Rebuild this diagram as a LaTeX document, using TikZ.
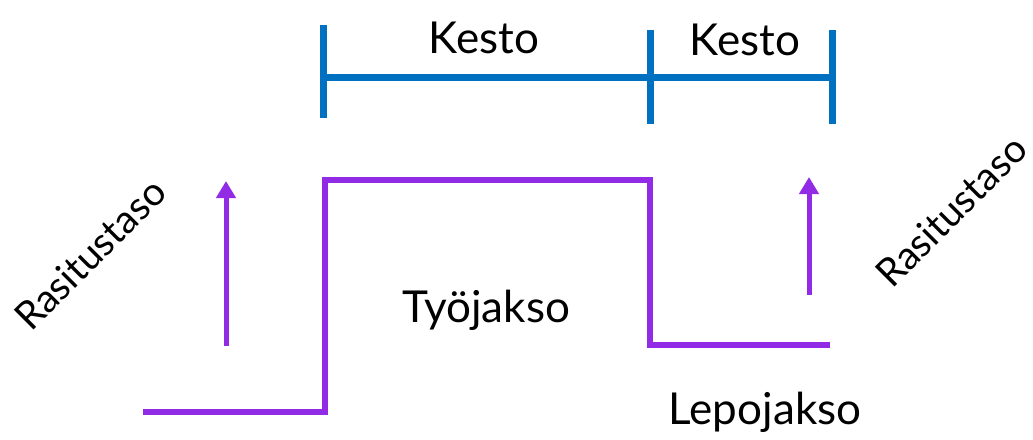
\documentclass[tikz,border=0pt]{standalone}
\usepackage{fontspec}
\setmainfont{Lato}
\usetikzlibrary{arrows.meta}
\definecolor{barblue}{RGB}{0,112,192}
\definecolor{loadpurple}{RGB}{146,43,230}
\begin{document}
\begin{tikzpicture}[x=1pt,y=-1pt,
  bar/.style={draw=barblue,line width=7pt},
  level/.style={draw=loadpurple,line width=6pt},
  risearrow/.style={draw=loadpurple,line width=5pt,-{Triangle[length=17pt,width=19pt]}},
  lbl/.style={font=\fontsize{44}{48}\selectfont,inner sep=0pt},
  slant/.style={font=\fontsize{39}{42}\selectfont,inner sep=0pt,rotate=45}]
\useasboundingbox (0,0) rectangle (1033,439);
% duration bar with tick marks
\coordinate (b0) at (323,77);
\coordinate (b1) at (650,77);
\coordinate (b2) at (832,77);
\draw[bar] (b0) -- (b2);
\draw[bar] (323,25) -- (323,118);
\draw[bar] (650,30) -- (650,124);
\draw[bar] (832,30) -- (832,124);
\node[lbl] (k1) at (484,38) {Kesto};
\node[lbl] (k2) at (745,40) {Kesto};
% load level profile
\coordinate (p0) at (143,412);
\coordinate (p1) at (325,412);
\coordinate (p2) at (325,180);
\coordinate (p3) at (650,180);
\coordinate (p4) at (650,345);
\coordinate (p5) at (830,345);
\draw[level,line join=miter] (p0) -- (p1) -- (p2) -- (p3) -- (p4) -- (p5);
% load arrows
\coordinate (a0) at (226,346);
\coordinate (a1) at (226,181);
\coordinate (c0) at (809,295);
\coordinate (c1) at (809,177);
\draw[risearrow] (a0) -- (a1);
\draw[risearrow] (c0) -- (c1);
% labels
\node[lbl] (tj) at (486,310) {Työjakso};
\node[lbl] (lj) at (765,412) {Lepojakso};
\node[slant] (r1) at (90,254) {Rasitustaso};
\node[slant] (r2) at (951,211) {Rasitustaso};
\end{tikzpicture}
\end{document}
